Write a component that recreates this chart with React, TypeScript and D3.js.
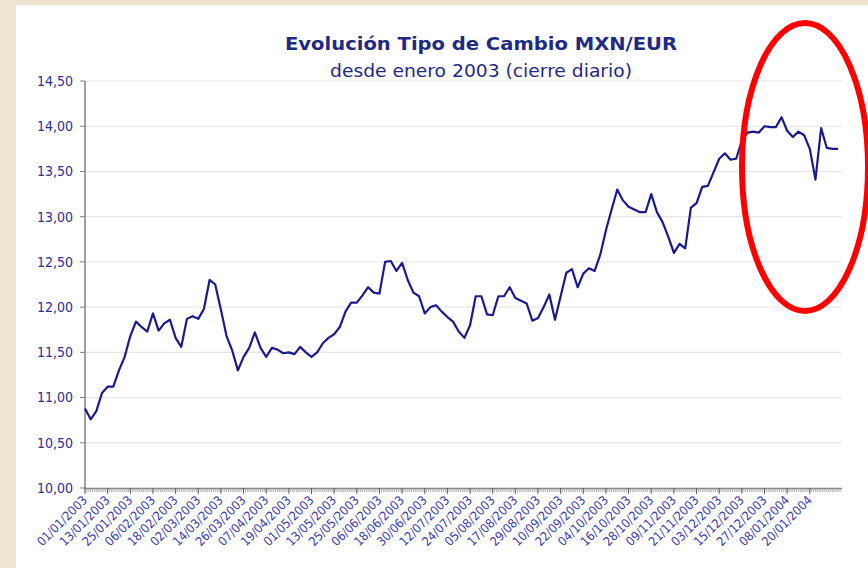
import * as d3 from 'd3'

// Tipo de cambio MXN/EUR, cierre leído cada 3 días desde 01/01/2003
const START = Date.UTC(2003, 0, 1)
const STEP_DAYS = 3
const rates = [
  10.88, 10.76, 10.85, 11.05, 11.12, 11.12, 11.3, 11.45, 11.68, 11.84,
  11.78, 11.73, 11.93, 11.74, 11.82, 11.86, 11.66, 11.56, 11.87, 11.9,
  11.87, 11.98, 12.3, 12.25, 11.97, 11.68, 11.52, 11.3, 11.45, 11.55,
  11.72, 11.55, 11.45, 11.55, 11.53, 11.49, 11.5, 11.48, 11.56, 11.5,
  11.45, 11.5, 11.6, 11.66, 11.7, 11.78, 11.95, 12.05, 12.05, 12.13,
  12.22, 12.16, 12.15, 12.5, 12.51, 12.4, 12.49, 12.3, 12.16, 12.12,
  11.93, 12.0, 12.02, 11.95, 11.89, 11.84, 11.73, 11.66, 11.8, 12.12,
  12.12, 11.92, 11.91, 12.12, 12.12, 12.22, 12.1, 12.07, 12.04, 11.85,
  11.88, 12.0, 12.14, 11.86, 12.12, 12.38, 12.42, 12.22, 12.37, 12.43,
  12.4, 12.58, 12.85, 13.08, 13.3, 13.18, 13.11, 13.08, 13.05, 13.05,
  13.25, 13.05, 12.94, 12.78, 12.6, 12.7, 12.65, 13.1, 13.15, 13.33,
  13.34, 13.49, 13.64, 13.7, 13.63, 13.64, 13.84, 13.93, 13.94, 13.93,
  14.0, 13.99, 13.99, 14.1, 13.95, 13.88, 13.94, 13.9, 13.75, 13.41,
  13.98, 13.76, 13.75, 13.75,
]

const dateLabels = [
  '01/01/2003', '13/01/2003', '25/01/2003', '06/02/2003', '18/02/2003',
  '02/03/2003', '14/03/2003', '26/03/2003', '07/04/2003', '19/04/2003',
  '01/05/2003', '13/05/2003', '25/05/2003', '06/06/2003', '18/06/2003',
  '30/06/2003', '12/07/2003', '24/07/2003', '05/08/2003', '17/08/2003',
  '29/08/2003', '10/09/2003', '22/09/2003', '04/10/2003', '16/10/2003',
  '28/10/2003', '09/11/2003', '21/11/2003', '03/12/2003', '15/12/2003',
  '27/12/2003', '08/01/2004', '20/01/2004',
]

const yTicks = [10, 10.5, 11, 11.5, 12, 12.5, 13, 13.5, 14, 14.5]

const W = 868
const H = 568
const FONT = "'DejaVu Sans Condensed', 'DejaVu Sans', sans-serif"

export default function App() {
  const parse = d3.utcParse('%d/%m/%Y')
  const data = rates.map((v, i) => ({
    date: d3.utcDay.offset(new Date(START), i * STEP_DAYS),
    value: v,
  }))

  const x = d3
    .scaleUtc()
    .domain([new Date(START), d3.utcDay.offset(new Date(START), 400)])
    .range([85, 840])

  const y = d3.scaleLinear().domain([10, 14.5]).range([488, 81])

  const line = d3
    .line<{ date: Date; value: number }>()
    .x(d => x(d.date))
    .y(d => y(d.value))

  const minorTicks = d3.utcDay.range(new Date(START), d3.utcDay.offset(new Date(START), 401))
  const fmt = (v: number) => d3.format('.2f')(v).replace('.', ',')

  return (
    <svg
      width={W}
      height={H}
      style={{ position: 'absolute', left: 0, top: 0, display: 'block' }}
    >
      <rect width={W} height={H} fill="#ede5d0" />
      <rect x={16} y={5} width={W - 16} height={H - 5} fill="#fff" />

      {/* title */}
      <text
        x={481}
        y={50}
        textAnchor="middle"
        fontFamily={FONT}
        fontWeight="bold"
        fontSize={18}
        fill="#1f2a85"
        textLength={392}
        lengthAdjust="spacingAndGlyphs"
      >
        Evolución Tipo de Cambio MXN/EUR
      </text>
      <text
        x={481}
        y={77}
        textAnchor="middle"
        fontFamily={FONT}
        fontSize={17}
        fill="#1f2a85"
        textLength={302}
        lengthAdjust="spacingAndGlyphs"
      >
        desde enero 2003 (cierre diario)
      </text>

      {/* grid + y axis */}
      {yTicks.map(t => (
        <g key={t}>
          {t > 10 && (
            <line x1={86} x2={842} y1={y(t)} y2={y(t)} stroke="#e2e2e2" strokeWidth={1} />
          )}
          <line x1={80} x2={85} y1={y(t)} y2={y(t)} stroke="#808080" />
          <text
            x={73}
            y={y(t)}
            dy="0.35em"
            textAnchor="end"
            fontFamily={FONT}
            fontSize={14}
            fill="#2e2e96"
          >
            {fmt(t)}
          </text>
        </g>
      ))}
      <line x1={85} x2={85} y1={81} y2={489} stroke="#808080" strokeWidth={1.5} />

      {/* x axis */}
      <line x1={85} x2={842} y1={488.5} y2={488.5} stroke="#808080" strokeWidth={1.5} />
      {minorTicks.map((d, i) => (
        <line
          key={i}
          x1={x(d)}
          x2={x(d)}
          y1={488}
          y2={492}
          stroke="#9a9a9a"
          strokeWidth={0.8}
        />
      ))}
      {dateLabels.map(s => {
        const px = x(parse(s) as Date)
        return (
          <g key={s}>
            <line x1={px} x2={px} y1={488} y2={494} stroke="#606060" />
            <text
              transform={`translate(${px + 3},${501}) rotate(-45)`}
              textAnchor="end"
              fontFamily={FONT}
              fontSize={12.5}
              fill="#3a3ab0"
            >
              {s}
            </text>
          </g>
        )
      })}

      {/* series */}
      <path d={line(data) ?? ''} fill="none" stroke="#1a1a8c" strokeWidth={2.2} strokeLinejoin="round" />

      {/* highlight */}
      <ellipse cx={805} cy={167} rx={63} ry={144} fill="none" stroke="#ff0000" strokeWidth={6} />
    </svg>
  )
}
